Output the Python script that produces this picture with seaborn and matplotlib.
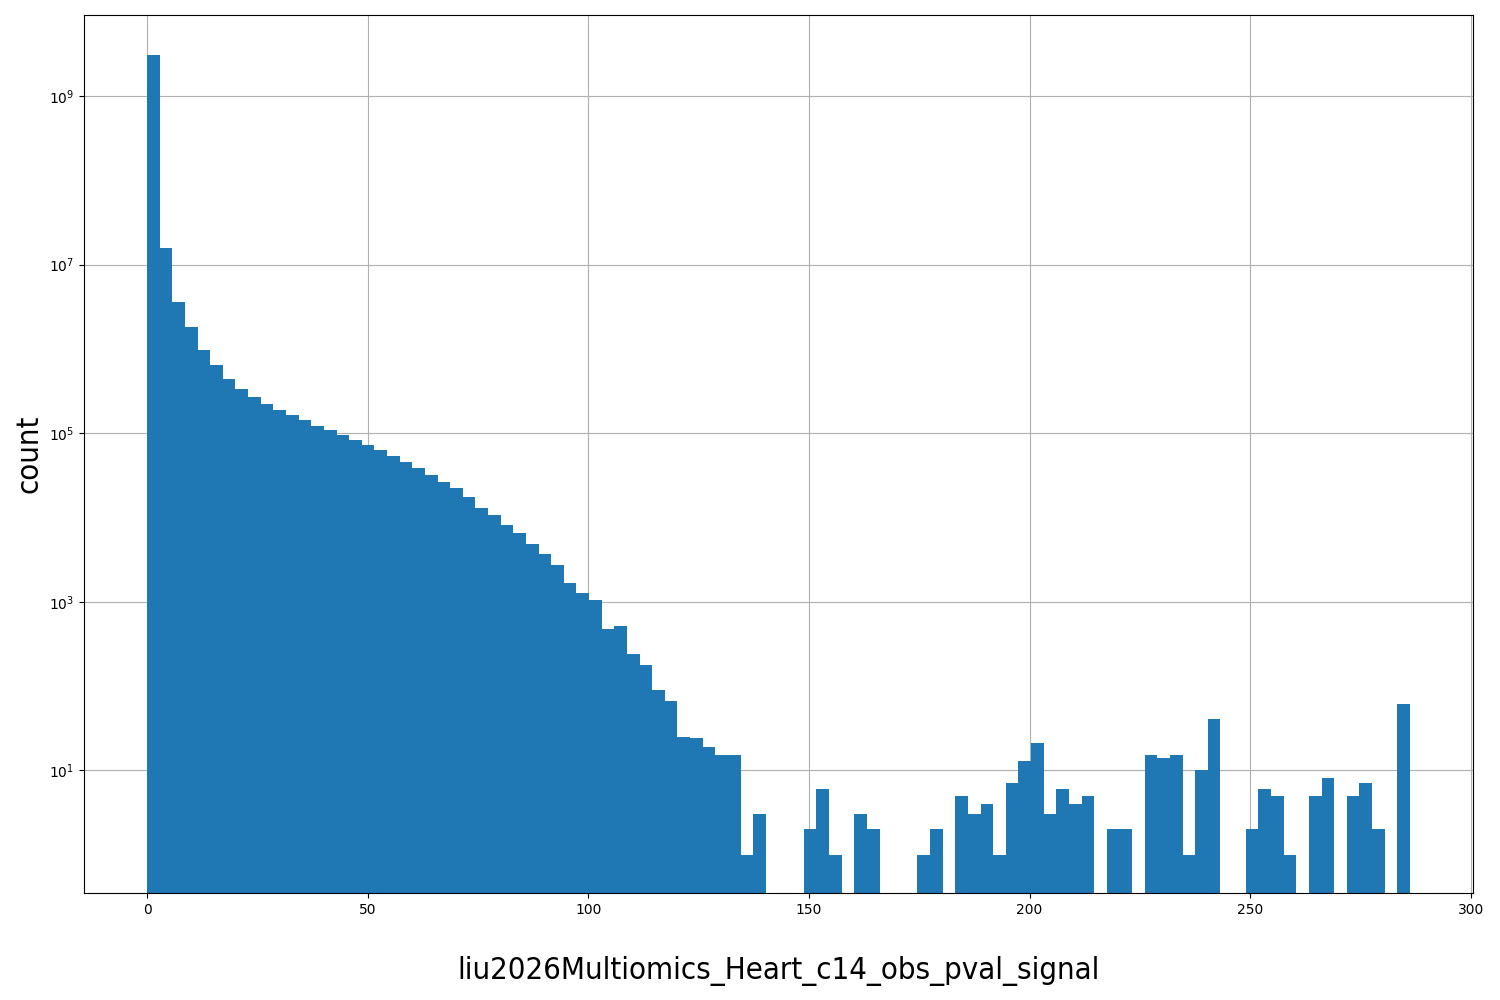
import numpy as np
import pandas as pd
import matplotlib
matplotlib.use("Agg")
import matplotlib.pyplot as plt
import seaborn as sns

# histogram: 100 equal bins over the signal range, counts
x_min, x_max = 0.0, 286.2
n_bins = 100
counts = [
    3.06e9, 1.56e7, 3.6e6, 1.82e6, 9.7e5, 6.4e5, 4.4e5, 3.34e5, 2.69e5, 2.22e5,
    1.88e5, 1.64e5, 1.44e5, 1.22e5, 1.09e5, 9.5e4, 8.3e4, 7.2e4, 6.3e4, 5.4e4,
    4.55e4, 3.86e4, 3.19e4, 2.64e4, 2.24e4, 1.75e4, 1.30e4, 1.07e4, 8.1e3, 6.5e3,
    4.85e3, 3.69e3, 2.73e3, 1.67e3, 1.27e3, 1.05e3, 475, 516, 240, 178,
    90, 66, 25, 24, 19, 15, 15, 1, 3, 0,
    0, 0, 2, 6, 1, 0, 3, 2, 0, 0,
    0, 1, 2, 0, 5, 3, 4, 1, 7, 13,
    21, 3, 6, 4, 5, 0, 2, 2, 0, 15,
    14, 15, 1, 10, 41, 0, 0, 2, 6, 5,
    1, 0, 5, 8, 0, 5, 7, 2, 0, 61,
]
xlabel = "liu2026Multiomics_Heart_c14_obs_pval_signal"
ylabel = "count"

edges = np.linspace(x_min, x_max, n_bins + 1)
df = pd.DataFrame({"signal": (edges[:-1] + edges[1:]) / 2, "n": counts})

fig = plt.figure(figsize=(15, 10), dpi=100)
ax = fig.add_axes([0.056, 0.107, 0.926, 0.878])
sns.histplot(data=df, x="signal", weights="n", bins=n_bins, binrange=(x_min, x_max),
             ax=ax, color="#1f77b4", alpha=1, edgecolor="none", linewidth=0)
ax.set_yscale("log")
ax.set_xlim(-14.3, 300.5)
ax.set_ylim(0.35, 9.15e9)
ax.set_yticks([1e1, 1e3, 1e5, 1e7, 1e9])
ax.minorticks_off()
ax.set_axisbelow(True)
ax.grid(True, color="#b0b0b0", linewidth=0.8)
ax.tick_params(labelsize=10)

ax.set_xlabel(xlabel, fontsize=22.3, fontstretch="condensed", labelpad=28)
ax.set_ylabel(ylabel, fontsize=22.3, fontstretch="condensed", labelpad=4)

fig.savefig("out.png", dpi=100)
